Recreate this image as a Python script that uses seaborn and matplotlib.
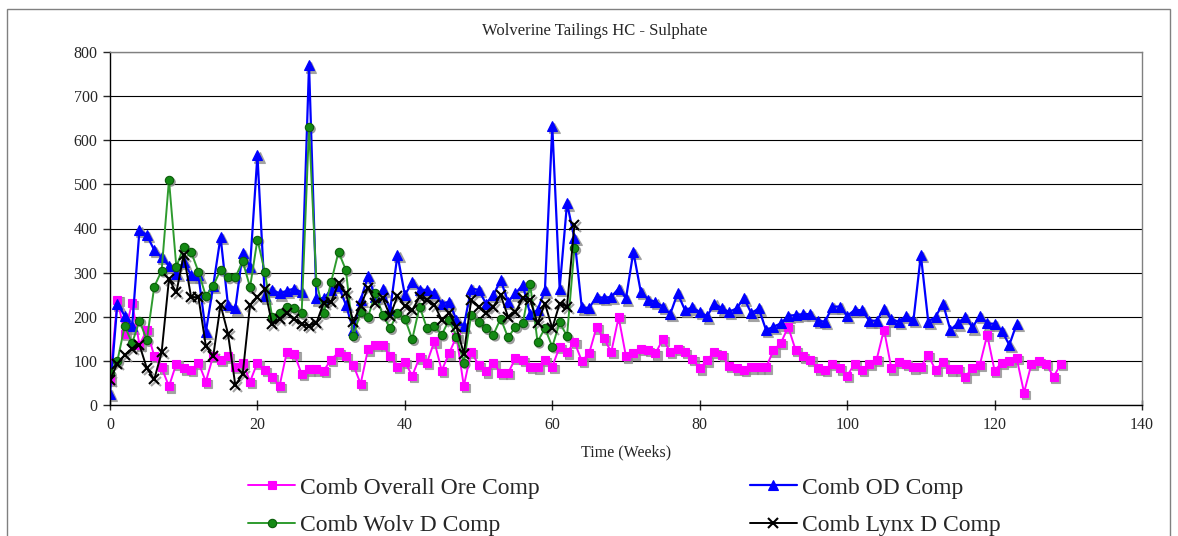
import numpy as np
import matplotlib
matplotlib.use('Agg')
import matplotlib.pyplot as plt
import matplotlib.patheffects as pe
from matplotlib.patches import Rectangle
import seaborn as sns

# Sulphate values per week
ore_comp = [57, 239, 162, 232, 136, 170, 111, 85, 42, 94,
            83, 79, 96, 53, 111, 102, 110, 87, 96, 53,
            96, 79, 64, 43, 121, 116, 70, 81, 81, 78,
            103, 119, 111, 91, 48, 126, 136, 136, 111, 87,
            98, 66, 108, 96, 144, 78, 117, 155, 43, 121,
            91, 76, 96, 73, 72, 106, 102, 87, 85, 102,
            87, 132, 119, 143, 100, 117, 176, 151, 120, 199,
            110, 117, 128, 125, 117, 149, 121, 128, 121, 104,
            83, 101, 121, 113, 88, 83, 79, 85, 85, 85,
            124, 140, 177, 125, 110, 103, 83, 79, 93, 83,
            66, 93, 79, 93, 103, 171, 83, 98, 94, 85,
            87, 113, 79, 98, 81, 81, 64, 83, 91, 159,
            78, 96, 100, 106, 28, 93, 100, 93, 64, 93]

od_comp = [26, 230, 202, 178, 397, 385, 351, 335, 315, 298,
           325, 294, 294, 165, 270, 381, 227, 219, 345, 313,
           566, 246, 261, 253, 259, 264, 255, 770, 242, 242,
           260, 270, 227, 170, 238, 292, 245, 262, 215, 340,
           249, 279, 261, 261, 253, 230, 234, 193, 179, 264,
           261, 230, 249, 283, 234, 253, 272, 206, 215, 260,
           632, 264, 457, 378, 221, 220, 245, 243, 245, 264,
           242, 347, 257, 239, 234, 223, 206, 253, 215, 221,
           211, 201, 230, 219, 211, 219, 242, 208, 219, 170,
           177, 185, 202, 204, 206, 206, 191, 189, 223, 223,
           202, 215, 215, 191, 191, 217, 194, 189, 202, 193,
           340, 189, 200, 230, 170, 185, 200, 176, 202, 185,
           184, 168, 136, 184]

wolv_comp = [72, 100, 179, 140, 191, 147, 268, 304, 510, 313,
             359, 347, 302, 247, 270, 306, 289, 289, 326, 267,
             375, 302, 199, 208, 223, 219, 208, 630, 279, 208,
             279, 347, 306, 156, 211, 199, 253, 204, 174, 208,
             196, 149, 223, 174, 179, 159, 193, 155, 96, 204,
             189, 174, 159, 196, 153, 177, 185, 274, 143, 174,
             132, 187, 156, 355]

lynx_comp = [57, 94, 113, 128, 136, 83, 58, 119, 285, 255,
             340, 245, 244, 134, 110, 227, 162, 45, 70, 227,
             244, 262, 183, 195, 208, 195, 183, 180, 186, 232,
             234, 276, 253, 189, 225, 266, 232, 242, 202, 247,
             225, 215, 245, 239, 227, 193, 208, 177, 116, 238,
             223, 208, 223, 249, 200, 211, 242, 238, 185, 230,
             174, 230, 223, 408]

series_labels = ['Comb Overall Ore Comp', 'Comb OD Comp',
                 'Comb Wolv D Comp', 'Comb Lynx D Comp']
x_ticks = [0, 20, 40, 60, 80, 100, 120, 140]
y_ticks = [0, 100, 200, 300, 400, 500, 600, 700, 800]

sns.set_style('white')
plt.rcParams['font.family'] = ['Liberation Serif', 'DejaVu Serif']

W, H = 1178, 536
fig = plt.figure(figsize=(W / 100, H / 100), dpi=100)
ax = fig.add_axes([110 / W, 1 - 405 / H, (1142 - 110) / W, (405 - 52) / H])

# line colour, marker, marker size, face, edge, line width
styles = [
    ('#FF00FF', 's', 6.0, '#FF00FF', '#FF00FF', 1.4),
    ('#0000FF', '^', 7.5, '#0000FF', '#0000FF', 1.6),
    ('#2E9B2E', 'o', 6.0, '#148A14', '#0B5D0B', 1.4),
    ('#000000', 'x', 7.0, '#000000', '#000000', 1.4),
]
data = [ore_comp, od_comp, wolv_comp, lynx_comp]

shadow = [pe.SimplePatchShadow(offset=(1.5, -1.5), shadow_rgbFace='0.55', alpha=0.8),
          pe.SimpleLineShadow(offset=(1.5, -1.5), shadow_color='0.55', alpha=0.8)]

for i, (vals, lab, st) in enumerate(zip(data, series_labels, styles)):
    col, mk, ms, fc, ec, lw = st
    weeks = np.arange(len(vals))
    # drop shadow under the markers
    sns.lineplot(x=weeks, y=vals, ax=ax, color='0.55', marker=mk, markersize=ms,
                 linestyle='none', markeredgewidth=1.5 if mk == 'x' else 0.8,
                 path_effects=shadow, zorder=1.5, errorbar=None, legend=False)
    sns.lineplot(x=weeks, y=vals, ax=ax, color=col, lw=lw, marker=mk, markersize=ms,
                 markerfacecolor=fc, markeredgecolor=ec,
                 markeredgewidth=1.5 if mk == 'x' else 0.8,
                 zorder=2 + i * 0.1, errorbar=None, label=lab)

if ax.get_legend() is not None:
    ax.get_legend().remove()

ax.set_xlim(0, 140)
ax.set_ylim(0, 800)
ax.set_xticks(x_ticks)
ax.set_yticks(y_ticks)
ax.yaxis.grid(True, color='black', lw=0.8)
ax.xaxis.grid(False)
ax.set_axisbelow(True)
ax.tick_params(axis='x', direction='inout', length=7, width=1, pad=5, labelsize=11.5)
ax.tick_params(axis='y', direction='out', length=5, width=1, pad=4, labelsize=11.5, left=True)
ax.tick_params(axis='x', bottom=True)
for side in ['left', 'bottom']:
    ax.spines[side].set_color('black')
    ax.spines[side].set_linewidth(1.0)
for side in ['top', 'right']:
    ax.spines[side].set_color('#808080')
    ax.spines[side].set_linewidth(1.0)
ax.set_xlabel('Time (Weeks)', fontsize=11.5, labelpad=8)
ax.set_ylabel('')

fig.text(595 / W, 1 - 31 / H, 'Wolverine Tailings HC - Sulphate',
         ha='center', va='center', fontsize=12)

# outer chart border (runs off the bottom edge)
fig.patches.append(Rectangle((7 / W, -0.1), (1170 - 7) / W, 1.1 - 9 / H,
                             transform=fig.transFigure, fill=False,
                             ec='#808080', lw=1.0))

handles, labels = ax.get_legend_handles_labels()
order = [0, 2, 1, 3]
fig.legend([handles[k] for k in order], [labels[k] for k in order],
           loc='upper left', bbox_to_anchor=(248 / W, 1 - 477 / H), ncol=2,
           frameon=False, fontsize=17, handlelength=2.0, handletextpad=0.2,
           columnspacing=8.9, labelspacing=0.68, borderpad=0, borderaxespad=0)

fig.savefig('out.png', dpi=100)
